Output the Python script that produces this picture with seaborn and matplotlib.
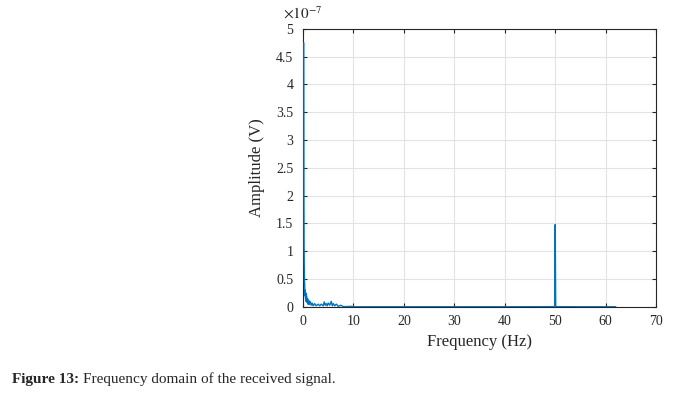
import matplotlib
matplotlib.use("Agg")
import matplotlib.pyplot as plt
import seaborn as sns
import pandas as pd

# Spectrum (frequency in Hz, amplitude in units of 1e-7 V)
freq_hz = [0.15, 0.18, 0.21, 0.25, 0.3, 0.35, 0.4, 0.45, 0.5, 0.55, 0.6, 0.7, 0.8, 0.9, 1.0,
           1.1, 1.2, 1.4, 1.6, 1.8, 2.0, 2.3, 2.6, 3.0, 3.3, 3.6, 4.0, 4.2, 4.4, 4.6,
           4.8, 5.0, 5.3, 5.6, 5.8, 6.0, 6.3, 6.6, 7.0, 7.5, 8.0, 9.5, 10, 20, 30, 40,
           49.9, 50.0, 50.1, 55, 62]
amp_e7 = [4.75, 2.0, 1.1, 0.7, 0.45, 0.35, 0.2, 0.3, 0.15, 0.25, 0.1, 0.2, 0.08, 0.15, 0.05,
          0.12, 0.04, 0.1, 0.03, 0.07, 0.02, 0.06, 0.02, 0.05, 0.02, 0.05, 0.02, 0.09, 0.03, 0.06,
          0.02, 0.07, 0.03, 0.1, 0.02, 0.06, 0.02, 0.05, 0.01, 0.03, 0.005, 0.01, 0.003, 0.003, 0.003, 0.003,
          0.005, 1.48, 0.005, 0.003, 0.003]

x_ticks = [0, 10, 20, 30, 40, 50, 60, 70]
y_ticks = [0, 0.5, 1, 1.5, 2, 2.5, 3, 3.5, 4, 4.5, 5]
y_tick_labels = ["0", "0.5", "1", "1.5", "2", "2.5", "3", "3.5", "4", "4.5", "5"]

df = pd.DataFrame({"f": freq_hz, "a": amp_e7})

sns.set_style("white")
serif = ["Liberation Serif", "DejaVu Serif"]
plt.rcParams["font.family"] = serif
plt.rcParams["mathtext.fontset"] = "stix"

fig = plt.figure(figsize=(6.95, 3.95), dpi=100)
ax = fig.add_axes([0.436, 0.223, 0.508, 0.704])
sns.lineplot(data=df, x="f", y="a", ax=ax, color="#0072BD", linewidth=1.0, sort=False, zorder=3)

ax.set_xlim(0, 70)
ax.set_ylim(0, 5)
ax.set_xticks(x_ticks)
ax.set_xticklabels([str(t) for t in x_ticks])
ax.set_yticks(y_ticks)
ax.set_yticklabels(y_tick_labels)
ax.grid(True, color="#e3e3e3", linewidth=0.8)
ax.set_axisbelow(True)
ax.tick_params(direction="in", length=3, labelsize=10, colors="#262626",
               top=True, right=True, bottom=True, left=True)
ax.tick_params(axis="y", pad=7)
ax.tick_params(axis="x", pad=6)
for s in ax.spines.values():
    s.set_color("#262626")
    s.set_linewidth(0.8)
ax.set_xlabel("Frequency (Hz)", fontsize=12, labelpad=4)
ax.set_ylabel("Amplitude (V)", fontsize=12, labelpad=8)

ax.text(0.0, 1.025, r"$\times10^{-7}$", transform=ax.transAxes, fontsize=11,
        ha="center", va="bottom", color="#262626")

t1 = fig.text(0.017, 0.022, "Figure 13:", fontsize=11, fontweight="bold", ha="left", va="bottom")
fig.canvas.draw()
bb = t1.get_window_extent().transformed(fig.transFigure.inverted())
fig.text(bb.x1 + 0.006, 0.022, "Frequency domain of the received signal.", fontsize=11,
         ha="left", va="bottom")

fig.savefig("out.png", dpi=100, facecolor="white")
